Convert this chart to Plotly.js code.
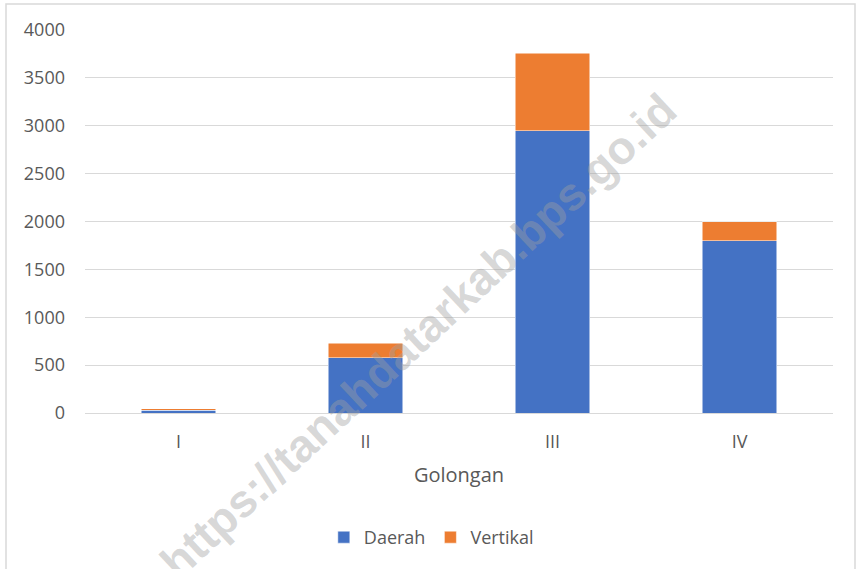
<!DOCTYPE html>
<html>
<head>
<meta charset="utf-8">
<script src="https://cdn.plot.ly/plotly-3.0.1.min.js"></script>
<style>
  body { margin: 0; background: #fff; }
  #chart { width: 856px; height: 569px; }
</style>
</head>
<body>
<div id="chart"></div>
<script>
// golongan categories
const golongan = ["I", "II", "III", "IV"];
const daerah = [30, 576, 2950, 1800];
const vertikal = [16, 154, 806, 200];
const yTicks = [0, 500, 1000, 1500, 2000, 2500, 3000, 3500, 4000];

const font = "'Open Sans', sans-serif";

const data = [
  { x: golongan, y: daerah, name: "Daerah", type: "bar",
    marker: { color: "#4472C4", line: { color: "#ffffff", width: 0.5 } } },
  { x: golongan, y: vertikal, name: "Vertikal", type: "bar",
    marker: { color: "#ED7D31", line: { color: "#ffffff", width: 0.5 } } }
];

const layout = {
  width: 856, height: 569,
  margin: { l: 85, r: 23, t: 30, b: 156 },
  barmode: "stack",
  bargap: 0.6,
  paper_bgcolor: "#fff",
  plot_bgcolor: "#fff",
  font: { family: font, size: 18, color: "#595959" },
  xaxis: {
    title: { text: "Golongan", font: { size: 20, color: "#595959" }, standoff: 16 },
    showgrid: false, zeroline: false,
    showline: true, linecolor: "#d9d9d9", linewidth: 1,
    ticks: "", ticklabelstandoff: 12, tickfont: { size: 18 }
  },
  yaxis: {
    range: [0, 4000],
    tickvals: yTicks,
    gridcolor: "#d9d9d9", gridwidth: 1,
    zeroline: false, showline: false,
    ticks: "", ticklabelstandoff: 19,
    tickfont: { size: 18 }
  },
  showlegend: true,
  legend: {
    orientation: "h", x: 0.463, xanchor: "center",
    y: -0.325, yanchor: "middle",
    font: { size: 18, color: "#595959" },
    traceorder: "normal", itemwidth: 30
  },
  shapes: [{
    type: "rect", xref: "paper", yref: "paper",
    x0: (6 - 85) / 748, x1: (855 - 85) / 748,
    y0: (412.7 - 600) / 382.7, y1: (412.7 - 4) / 382.7,
    line: { color: "#d9d9d9", width: 1.5 }, layer: "below"
  }],
  annotations: [{
    text: "https://tanahdatarkab.bps.go.id",
    xref: "paper", yref: "paper",
    x: (418 - 85) / 748, y: (412.7 - 336) / 382.7,
    xanchor: "center", yanchor: "middle",
    showarrow: false,
    textangle: -43,
    font: { family: "'Liberation Sans', Arial, sans-serif", size: 46, color: "rgba(160,160,160,0.42)", weight: "bold" }
  }]
};

Plotly.newPlot("chart", data, layout, { displayModeBar: false });
</script>
</body>
</html>
